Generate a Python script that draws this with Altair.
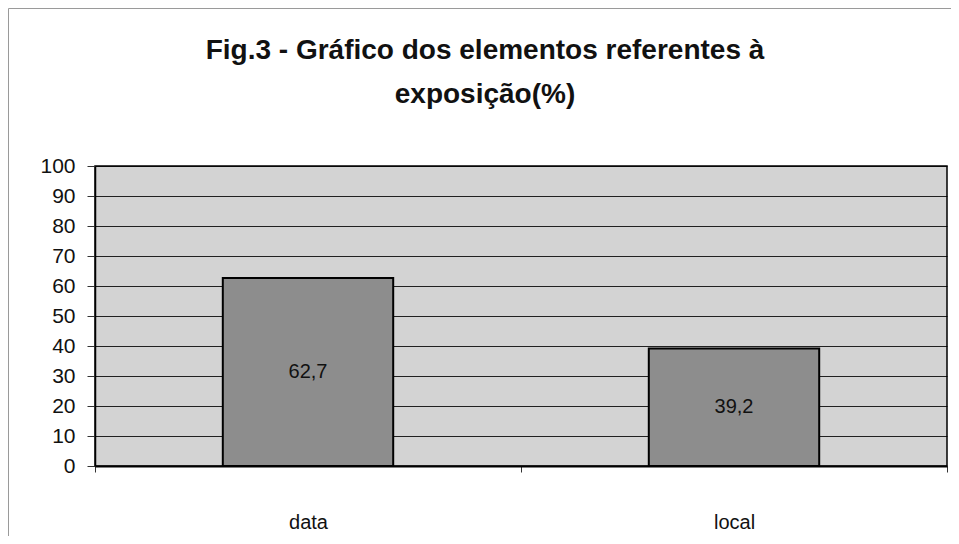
import altair as alt
import pandas as pd

categories = ["data", "local"]
values = [62.7, 39.2]
value_labels = ["62,7", "39,2"]
title_lines = ["Fig.3 - Gráfico dos elementos referentes à", "exposição(%)"]
y_ticks = [0, 10, 20, 30, 40, 50, 60, 70, 80, 90, 100]

df = pd.DataFrame({"cat": categories, "val": values, "lab": value_labels,
                   "mid": [v / 2 for v in values]})
one = pd.DataFrame({"k": [0]})

FONT = "Liberation Sans"

x_axis = alt.Axis(labelAngle=0, labelFontSize=20, labelFont=FONT, labelColor="#111",
                  labelPadding=40, tickBand="extent", tickSize=6, tickColor="#333",
                  domain=True, domainColor="#000", domainWidth=2, grid=False, title=None)
y_axis = alt.Axis(values=y_ticks, labelFontSize=21, labelFont=FONT, labelColor="#111",
                  labelPadding=12, tickSize=8, tickColor="#333", labelOverlap=False,
                  domain=True, domainColor="#000", domainWidth=1.5, title=None,
                  grid=True, gridColor="#000", gridWidth=1, gridOpacity=0.85)
x_scale = alt.Scale(paddingInner=0, paddingOuter=0)
y_scale = alt.Scale(domain=[0, 100], nice=False)

bars = alt.Chart(df).mark_bar(width={"band": 0.4}, color="#8d8d8d", stroke="#000",
                               strokeWidth=2).encode(
    x=alt.X("cat:N", sort=categories, scale=x_scale, axis=x_axis),
    y=alt.Y("val:Q", scale=y_scale, axis=y_axis),
)

texts = alt.Chart(df).mark_text(fontSize=20, font=FONT, color="#111").encode(
    x=alt.X("cat:N", sort=categories, scale=x_scale, axis=x_axis),
    y=alt.Y("mid:Q", scale=y_scale, axis=y_axis),
    text="lab:N",
)

frame = alt.Chart(one).mark_rect(fill="transparent", fillOpacity=0, stroke="#9a9a9a",
                                 strokeWidth=1, clip=False).encode(
    x=alt.value(-86.5), x2=alt.value(862), y=alt.value(-157.5), y2=alt.value(380)
)

title = alt.Chart(one).mark_text(text=title_lines, fontSize=28, font=FONT, fontWeight="bold",
                                 color="#111", align="center", baseline="alphabetic",
                                 lineHeight=44).encode(
    x=alt.value(390), y=alt.value(-107)
)

chart = alt.layer(frame, bars, texts, title).properties(
    width=852, height=300,
    background="white",
    autosize=alt.AutoSizeParams(type="none"),
    padding={"left": 87, "top": 158, "right": 4, "bottom": 70},
).configure_view(
    fill="#d3d3d3", stroke="#000", strokeWidth=1.5
)

chart.save("out.html", embed_options={"renderer": "svg", "actions": False})
